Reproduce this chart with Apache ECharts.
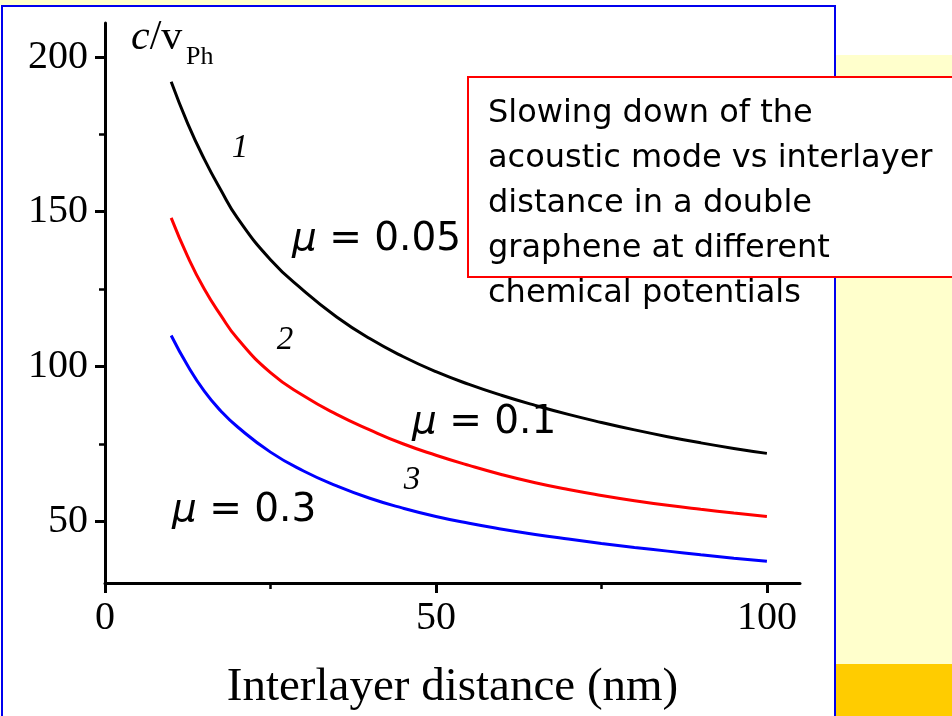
<!DOCTYPE html>
<html>
<head>
<meta charset="utf-8">
<script src="https://cdn.jsdelivr.net/npm/echarts@6/dist/echarts.min.js"></script>
<style>
html,body{margin:0;padding:0;background:#fff;}
#chart{width:952px;height:716px;}
</style>
</head>
<body>
<div id="chart"></div>
<script>
// ---- data ----
const distances = [10, 12.5, 15, 17.5, 20, 25, 30, 35, 40, 45, 50, 55, 60, 65, 70, 75, 80, 85, 90, 95, 100];
const curve1 = [192, 178.5, 167, 157, 148, 134.5, 124.5, 116, 109, 103.2, 98.3, 94.2, 90.6, 87.4, 84.5, 81.9, 79.5, 77.3, 75.3, 73.5, 71.9]; // mu = 0.05
const curve2 = [148, 135.5, 125, 116.5, 109, 98, 90.5, 84.5, 79.5, 75, 71.3, 68, 65, 62.4, 60.2, 58.3, 56.6, 55.1, 53.8, 52.6, 51.5];       // mu = 0.1
const curve3 = [110, 100.2, 92, 85.6, 80.5, 72.3, 66.2, 61.4, 57.4, 54.2, 51.5, 49.3, 47.4, 45.7, 44.2, 42.8, 41.5, 40.3, 39.1, 38, 37];    // mu = 0.3
const yTicks = [50, 100, 150, 200];
const yMinorTicks = [75, 125, 175];
const xTicks = [0, 50, 100];
const xMinorTicks = [25, 75];
const xTitle = 'Interlayer distance (nm)';
const boxLines = ['Slowing down of the', 'acoustic mode vs interlayer', 'distance in a double', 'graphene at different', 'chemical potentials'];
const muLabels = ['\u03bc = 0.05', '\u03bc = 0.1', '\u03bc = 0.3'];
const curveNums = ['1', '2', '3'];

const pairs = arr => distances.map((d, i) => [d, arr[i]]);
const serif = "'Liberation Serif','Times New Roman',serif";
const sans = "'DejaVu Sans','Verdana',sans-serif";

const chart = echarts.init(document.getElementById('chart'), null, {renderer: 'canvas'});

const lineSeries = (data, color) => ({
  type: 'line', data: pairs(data), showSymbol: false, smooth: 0.5,
  lineStyle: {color: color, width: 3}, itemStyle: {color: color}, z: 3
});

const muText = (txt, x, y) => ({
  type: 'text', x: x, y: y, z: 20,
  style: {
    text: '{m|' + txt.slice(0, 1) + '}' + txt.slice(1),
    font: '39px ' + sans, fill: '#000', textVerticalAlign: 'middle',
    rich: {m: {fontStyle: 'italic', fontSize: 39, fontFamily: sans}}
  }
});
const numText = (txt, x, y) => ({
  type: 'text', x: x, y: y, z: 20,
  style: {text: txt, font: 'italic 33px ' + serif, fill: '#000', textVerticalAlign: 'middle', textAlign: 'center'}
});

const option = {
  animation: false,
  backgroundColor: '#ffffff',
  grid: {left: 105, top: 23, width: 695, height: 561, containLabel: false},
  xAxis: [{
    type: 'value', min: 0, max: 105,
    axisLine: {show: true, lineStyle: {color: '#000', width: 3}},
    axisTick: {show: true, customValues: xTicks, length: 10, lineStyle: {color: '#000', width: 3}},
    axisLabel: {customValues: xTicks, color: '#000', fontFamily: serif, fontSize: 40, margin: 15},
    splitLine: {show: false},
    name: xTitle, nameLocation: 'middle', nameGap: 81,
    nameTextStyle: {color: '#000', fontFamily: serif, fontSize: 47}
  }, {
    type: 'value', min: 0, max: 105, position: 'bottom',
    axisLine: {show: false},
    axisTick: {show: true, customValues: xMinorTicks, length: 6, lineStyle: {color: '#000', width: 2.5}},
    axisLabel: {show: false}, splitLine: {show: false}
  }],
  yAxis: [{
    type: 'value', min: 30, max: 211,
    axisLine: {show: true, lineStyle: {color: '#000', width: 3}},
    axisTick: {show: true, customValues: yTicks, length: 10, lineStyle: {color: '#000', width: 3}},
    axisLabel: {customValues: yTicks, color: '#000', fontFamily: serif, fontSize: 40, margin: 17},
    splitLine: {show: false}
  }, {
    type: 'value', min: 30, max: 211, position: 'left',
    axisLine: {show: false},
    axisTick: {show: true, customValues: yMinorTicks, length: 6, lineStyle: {color: '#000', width: 2.5}},
    axisLabel: {show: false}, splitLine: {show: false}
  }],
  series: [
    lineSeries(curve1, '#000000'),
    lineSeries(curve2, '#ff0000'),
    lineSeries(curve3, '#0000ff')
  ],
  graphic: [
    {type: 'rect', z: -10, silent: true, shape: {x: 0, y: 0, width: 480, height: 5}, style: {fill: '#ffffcc'}},
    {type: 'rect', z: -10, silent: true, shape: {x: 836, y: 55, width: 120, height: 609}, style: {fill: '#ffffcc'}},
    {type: 'rect', z: -10, silent: true, shape: {x: 836, y: 664, width: 120, height: 60}, style: {fill: '#ffcc00'}},
    {type: 'rect', z: 10, silent: true, shape: {x: 2, y: 6, width: 833, height: 730}, style: {fill: 'none', stroke: '#0000ee', lineWidth: 2}},
    {type: 'rect', z: 11, silent: true, shape: {x: 468, y: 77, width: 520, height: 200}, style: {fill: '#ffffff', stroke: '#ff0000', lineWidth: 2}},
    {type: 'text', z: 12, x: 488, y: 91, style: {text: boxLines.join('\n'), font: '32px ' + sans, fill: '#000', lineHeight: 45, textVerticalAlign: 'top'}},
    {type: 'text', z: 20, x: 131, y: 38, style: {
      text: '{i|c}/v', font: '42px ' + serif, fill: '#000', textVerticalAlign: 'middle',
      rich: {i: {fontStyle: 'italic', fontSize: 42, fontFamily: serif}}
    }},
    {type: 'text', z: 20, x: 186, y: 57, style: {text: 'Ph', font: '26px ' + serif, fill: '#000', textVerticalAlign: 'middle'}},
    muText(muLabels[0], 292, 240),
    muText(muLabels[1], 412, 423),
    muText(muLabels[2], 172, 511),
    numText(curveNums[0], 240, 148),
    numText(curveNums[1], 285, 340),
    numText(curveNums[2], 412, 480)
  ]
};
chart.setOption(option);
</script>
</body>
</html>
